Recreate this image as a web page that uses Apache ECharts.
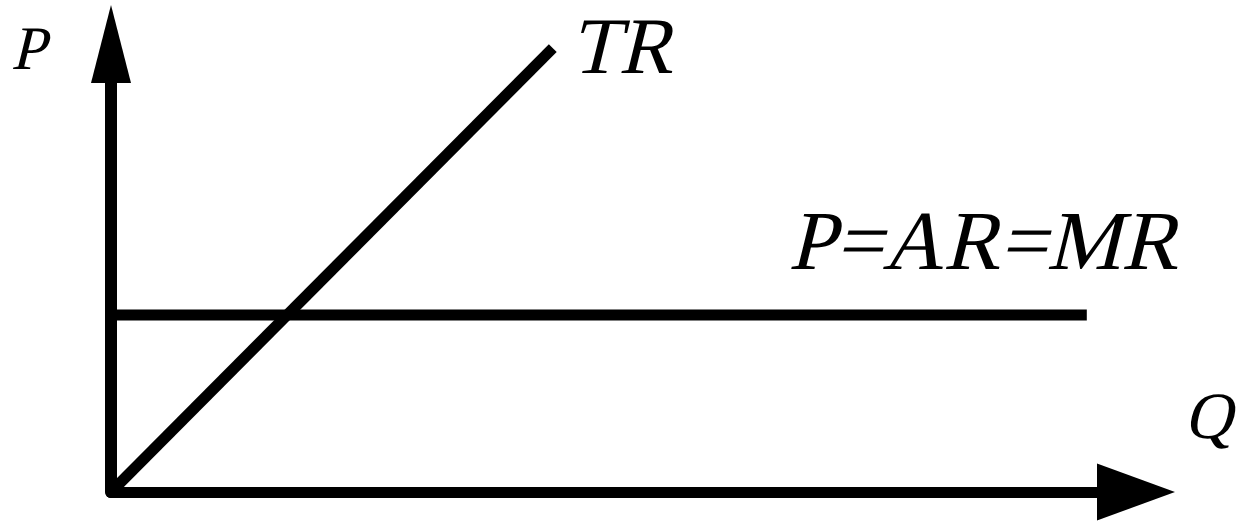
<!DOCTYPE html>
<html>
<head>
<meta charset="utf-8">
<script src="https://cdn.jsdelivr.net/npm/echarts@6/dist/echarts.min.js"></script>
<style>
  html, body { margin: 0; padding: 0; background: #fff; }
  #chart { width: 1236px; height: 523px; }
</style>
</head>
<body>
<div id="chart"></div>
<script>
// data (quantity Q on x, price / revenue on y)
const trQ = [0, 4.31]
const trValues = [0, 9.91]
const mrQ = [0, 9.52]
const mrValues = [3.95, 3.95]
const labels = { y: 'P', x: 'Q', tr: 'TR', mr: 'P=AR=MR' }

const chart = echarts.init(document.getElementById('chart'))

const label = (text, x, y, size) => ({
  type: 'text',
  x: x,
  y: y,
  style: {
    text: text,
    fontSize: size,
    fontFamily: 'Liberation Serif',
    textAlign: 'center',
    textVerticalAlign: 'middle',
    fill: '#000'
  }
})

chart.setOption({
  animation: false,
  grid: { left: 111, right: 100, top: 44, bottom: 31 },
  xAxis: {
    type: 'value',
    min: 0,
    max: 10,
    axisLine: {
      lineStyle: { color: '#000', width: 11 },
      symbol: ['none', 'triangle'],
      symbolSize: [57, 78]
    },
    axisTick: { show: false },
    axisLabel: { show: false },
    splitLine: { show: false }
  },
  yAxis: {
    type: 'value',
    min: 0,
    max: 10,
    axisLine: {
      show: true,
      lineStyle: { color: '#000', width: 12 },
      symbol: ['none', 'triangle'],
      symbolSize: [40, 78]
    },
    axisTick: { show: false },
    axisLabel: { show: false },
    splitLine: { show: false }
  },
  series: [
    {
      name: 'TR',
      type: 'line',
      data: trQ.map((q, i) => [q, trValues[i]]),
      showSymbol: false,
      lineStyle: { color: '#000', width: 11 }
    },
    {
      name: 'MR',
      type: 'line',
      data: mrQ.map((q, i) => [q, mrValues[i]]),
      showSymbol: false,
      lineStyle: { color: '#000', width: 11 }
    }
  ],
  graphic: [
    label(labels.y, 32, 53, 62),
    label(labels.tr, 626, 52, 80),
    label(labels.mr, 988, 247, 84),
    label(labels.x, 1212, 421, 66)
  ]
})

// no italic serif face is installed, so slant the label texts by hand
const zr = chart.getZr()
const names = Object.values(labels)
const slanted = new Set()
zr.storage.getDisplayList(true).forEach((el) => {
  const owner = el.parent
  if (el.style && names.includes(el.style.text) && owner && owner.type === 'text') {
    slanted.add(owner)
  }
})
slanted.forEach((el) => {
  el.skewX = -0.24
  el.markRedraw()
})
zr.refreshImmediately()

// repaint once more so the serif face is surely in use
setTimeout(() => {
  slanted.forEach((el) => el.markRedraw())
  zr.refreshImmediately()
}, 150)
</script>
</body>
</html>
